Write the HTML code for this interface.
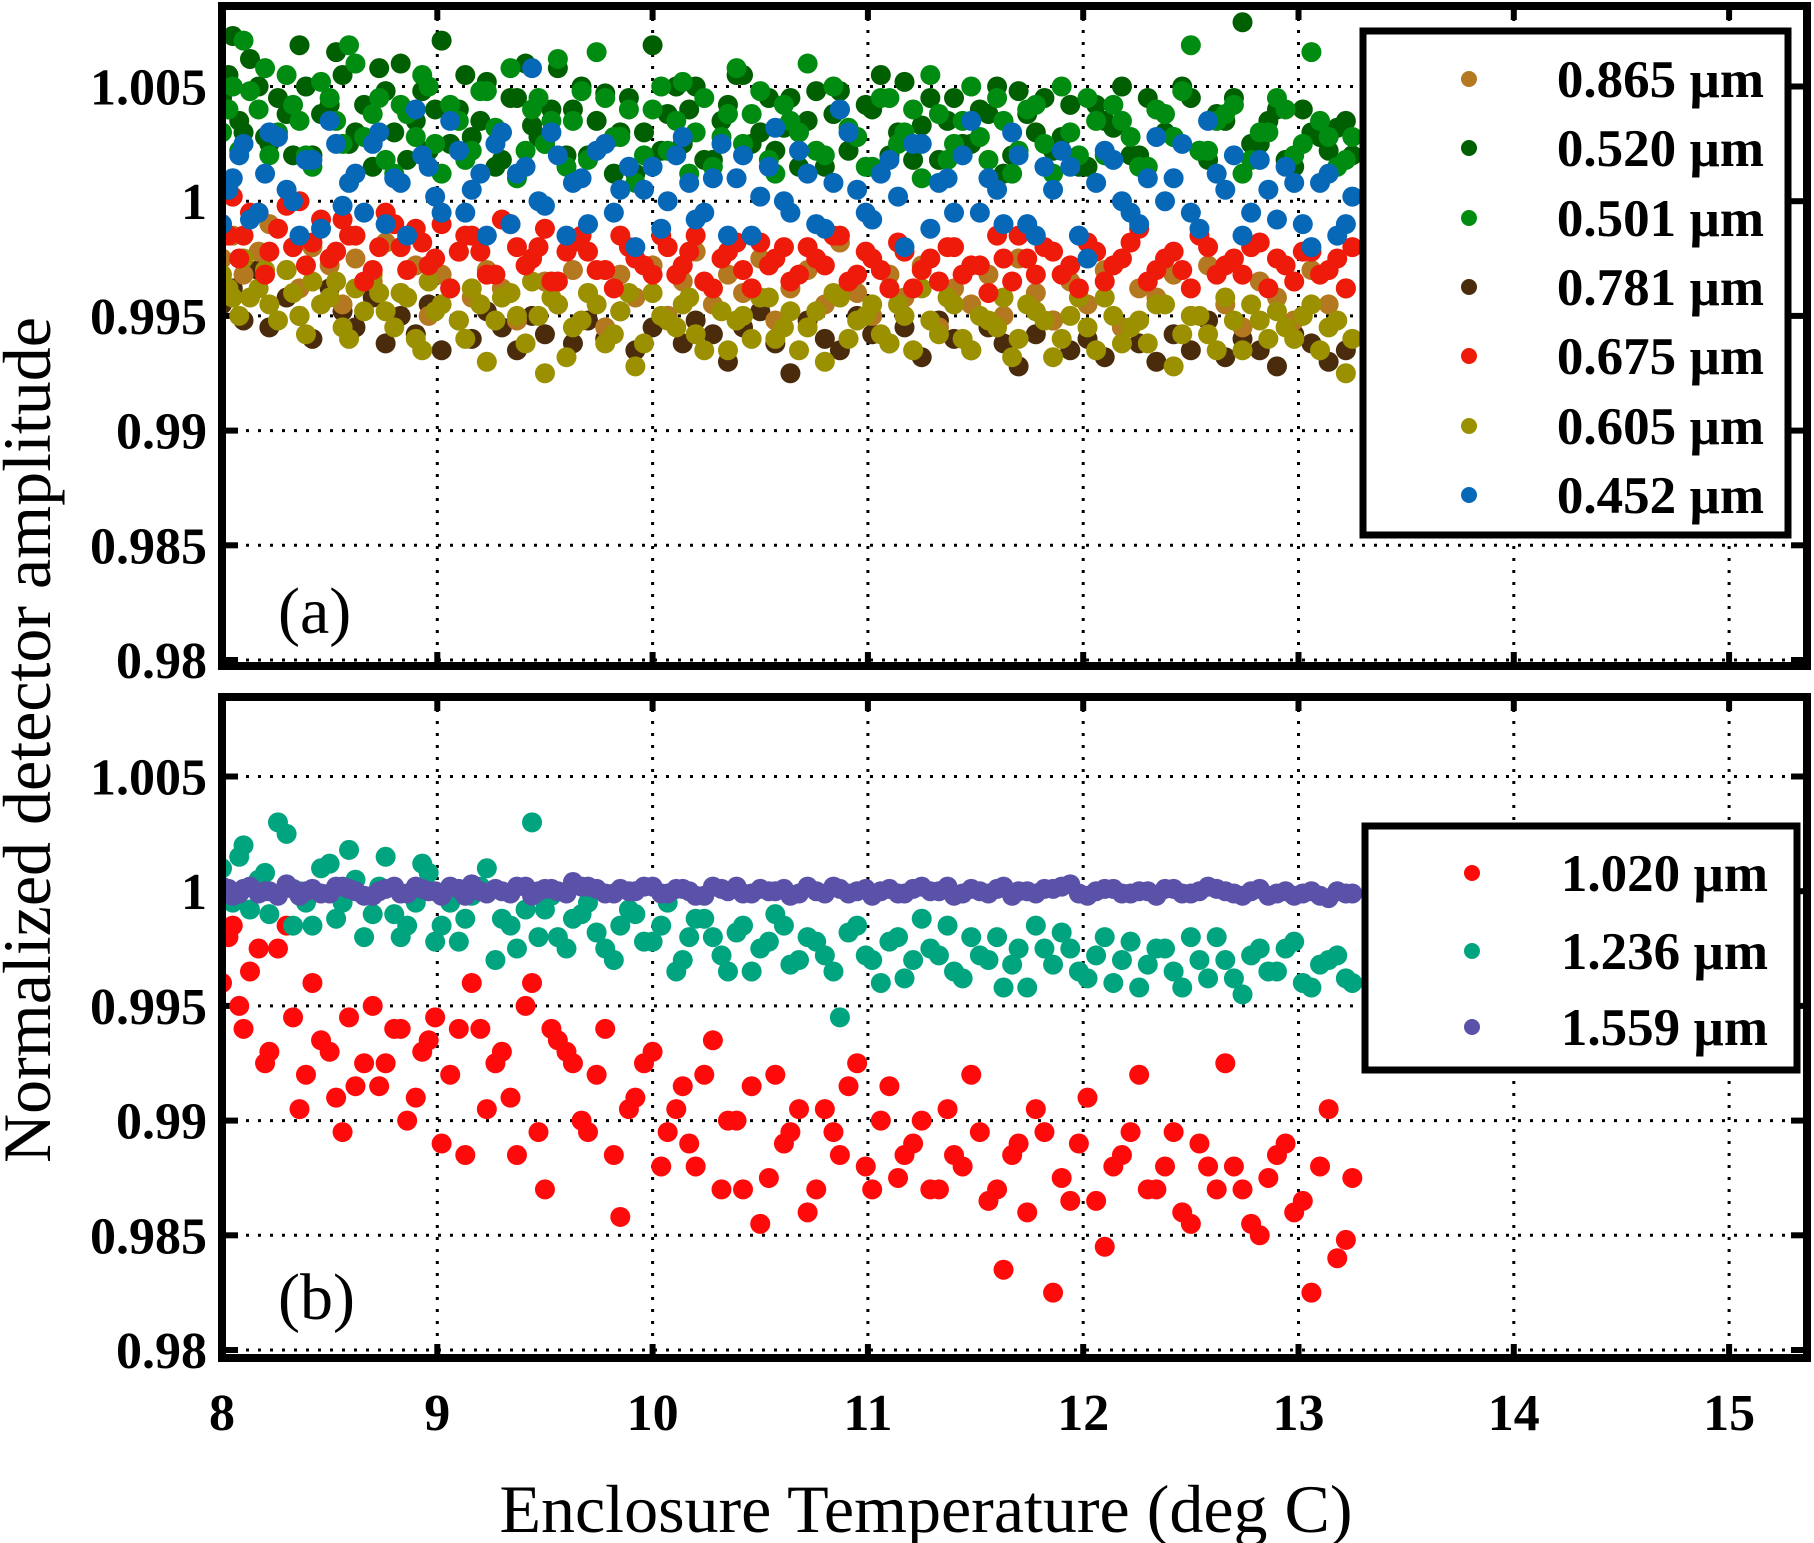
<!DOCTYPE html>
<html><head><meta charset="utf-8"><style>
html,body{margin:0;padding:0;background:#fff}
svg{display:block}
text{font-family:"Liberation Serif",serif}
</style></head><body>
<svg id="chart" width="1814" height="1543" xmlns="http://www.w3.org/2000/svg"></svg>
<script>
const xTicks=[8,9,10,11,12,13,14,15];
const yTicks=[0.98,0.985,0.99,0.995,1,1.005];
const yTickLabels=["0.98","0.985","0.99","0.995","1","1.005"];
const tempsA=[8.0,8.05,8.1,8.17,8.22,8.3,8.36,8.42,8.5,8.56,8.62,8.7,8.76,8.83,8.9,8.96,9.02,9.1,9.16,9.23,9.3,9.37,9.44,9.5,9.56,9.63,9.7,9.78,9.85,9.92,10.0,10.07,10.14,10.2,10.28,10.35,10.42,10.5,10.57,10.64,10.72,10.8,10.87,10.95,11.02,11.1,11.17,11.25,11.33,11.4,11.48,11.56,11.63,11.7,11.78,11.86,11.94,12.02,12.1,12.18,12.26,12.34,12.42,12.5,12.58,12.66,12.74,12.82,12.9,12.98,13.06,13.14,13.22];
const tempsA2=[8.03,8.08,8.13,8.2,8.26,8.33,8.39,8.46,8.53,8.59,8.66,8.73,8.8,8.86,8.93,8.99,9.06,9.13,9.2,9.27,9.34,9.41,9.47,9.53,9.6,9.67,9.74,9.82,9.89,9.96,10.04,10.11,10.17,10.24,10.32,10.39,10.46,10.54,10.61,10.68,10.76,10.84,10.91,10.99,11.06,11.14,11.21,11.29,11.37,11.44,11.52,11.6,11.67,11.74,11.82,11.9,11.98,12.06,12.14,12.22,12.3,12.38,12.46,12.54,12.62,12.7,12.78,12.86,12.94,13.02,13.1,13.18,13.25];
const s520=[1.0045,1.0072,1.0030,1.0050,1.0025,1.0038,1.0068,1.0020,1.0042,1.0055,1.0030,1.0015,1.0048,1.0060,1.0035,1.0022,1.0070,1.0040,1.0028,1.0052,1.0018,1.0045,1.0033,1.0025,1.0058,1.0040,1.0020,1.0047,1.0030,1.0012,1.0068,1.0038,1.0025,1.0050,1.0018,1.0042,1.0055,1.0030,1.0022,1.0045,1.0035,1.0015,1.0048,1.0028,1.0040,1.0020,1.0052,1.0033,1.0018,1.0045,1.0025,1.0038,1.0012,1.0048,1.0030,1.0022,1.0042,1.0015,1.0035,1.0050,1.0020,1.0040,1.0028,1.0045,1.0018,1.0035,1.0078,1.0025,1.0040,1.0015,1.0030,1.0022,1.0035];
const s520b=[1.0055,1.0035,1.0062,1.0028,1.0045,1.0020,1.0050,1.0038,1.0065,1.0025,1.0042,1.0058,1.0030,1.0018,1.0048,1.0040,1.0025,1.0055,1.0035,1.0015,1.0045,1.0060,1.0028,1.0040,1.0020,1.0050,1.0035,1.0012,1.0045,1.0030,1.0022,1.0050,1.0040,1.0018,1.0035,1.0055,1.0025,1.0045,1.0032,1.0015,1.0048,1.0038,1.0022,1.0042,1.0055,1.0030,1.0018,1.0045,1.0035,1.0025,1.0040,1.0050,1.0020,1.0038,1.0045,1.0028,1.0015,1.0042,1.0032,1.0020,1.0045,1.0030,1.0050,1.0022,1.0038,1.0045,1.0025,1.0035,1.0018,1.0040,1.0028,1.0032,1.0020];
const s501=[1.0030,1.0050,1.0070,1.0040,1.0020,1.0055,1.0035,1.0015,1.0045,1.0025,1.0060,1.0038,1.0018,1.0042,1.0028,1.0050,1.0012,1.0035,1.0022,1.0048,1.0030,1.0010,1.0040,1.0025,1.0062,1.0035,1.0018,1.0045,1.0028,1.0008,1.0040,1.0022,1.0052,1.0030,1.0015,1.0038,1.0025,1.0048,1.0012,1.0035,1.0060,1.0020,1.0040,1.0028,1.0015,1.0045,1.0030,1.0010,1.0038,1.0025,1.0050,1.0018,1.0035,1.0022,1.0042,1.0012,1.0030,1.0045,1.0020,1.0035,1.0015,1.0040,1.0028,1.0068,1.0022,1.0038,1.0012,1.0030,1.0045,1.0020,1.0065,1.0028,1.0018];
const s501b=[1.0040,1.0022,1.0048,1.0058,1.0030,1.0042,1.0020,1.0052,1.0035,1.0068,1.0028,1.0045,1.0012,1.0038,1.0055,1.0025,1.0042,1.0018,1.0048,1.0032,1.0058,1.0022,1.0045,1.0035,1.0015,1.0048,1.0065,1.0028,1.0040,1.0020,1.0050,1.0035,1.0012,1.0045,1.0028,1.0058,1.0038,1.0018,1.0042,1.0030,1.0022,1.0050,1.0032,1.0015,1.0045,1.0025,1.0040,1.0055,1.0018,1.0035,1.0028,1.0045,1.0012,1.0040,1.0025,1.0050,1.0020,1.0035,1.0042,1.0028,1.0015,1.0038,1.0048,1.0022,1.0035,1.0042,1.0018,1.0030,1.0040,1.0025,1.0035,1.0015,1.0028];
const s452=[0.9990,1.0010,1.0025,0.9995,1.0030,1.0005,0.9985,1.0018,1.0035,0.9998,1.0012,1.0025,0.9990,1.0008,1.0040,1.0015,0.9995,1.0022,1.0005,0.9985,1.0030,1.0012,1.0058,0.9998,1.0020,1.0008,0.9990,1.0025,1.0005,0.9980,1.0015,1.0000,1.0028,0.9992,1.0010,0.9985,1.0020,1.0002,1.0032,0.9995,1.0012,0.9988,1.0040,1.0005,0.9992,1.0018,0.9980,1.0025,1.0008,0.9995,1.0035,1.0010,0.9990,1.0020,0.9985,1.0005,1.0015,0.9975,1.0022,1.0000,0.9990,1.0028,1.0010,0.9995,1.0035,1.0005,0.9985,1.0018,0.9992,1.0008,0.9980,1.0012,0.9990];
const s452b=[1.0005,1.0020,0.9992,1.0012,1.0028,1.0000,1.0018,0.9988,1.0025,1.0008,0.9995,1.0030,1.0010,0.9985,1.0020,1.0002,1.0035,0.9995,1.0012,1.0025,0.9990,1.0015,1.0000,1.0030,0.9985,1.0010,1.0022,0.9995,1.0015,1.0005,0.9988,1.0020,1.0008,0.9995,1.0025,1.0010,0.9985,1.0015,1.0000,1.0022,0.9990,1.0008,1.0030,0.9995,1.0012,1.0002,1.0025,0.9988,1.0010,1.0020,0.9995,1.0005,1.0030,0.9990,1.0015,1.0022,0.9985,1.0008,1.0018,0.9995,1.0010,1.0000,1.0025,0.9988,1.0012,1.0020,0.9995,1.0005,1.0015,0.9990,1.0008,0.9985,1.0002];
const s675=[0.9990,1.0002,0.9985,0.9995,0.9978,0.9998,1.0000,0.9982,0.9975,0.9992,0.9985,0.9970,0.9995,0.9980,0.9988,0.9972,0.9990,0.9978,0.9985,0.9968,0.9992,0.9980,0.9975,0.9988,0.9965,0.9982,0.9978,0.9970,0.9985,0.9975,0.9968,0.9980,0.9972,0.9985,0.9962,0.9978,0.9970,0.9982,0.9975,0.9965,0.9980,0.9972,0.9985,0.9968,0.9975,0.9962,0.9978,0.9970,0.9965,0.9980,0.9972,0.9960,0.9975,0.9985,0.9968,0.9978,0.9972,0.9982,0.9965,0.9975,0.9988,0.9970,0.9978,0.9962,0.9980,0.9972,0.9968,0.9982,0.9975,0.9965,0.9978,0.9970,0.9962];
const s675b=[0.9985,0.9975,0.9995,0.9968,0.9988,0.9980,0.9972,0.9992,0.9978,0.9985,0.9965,0.9980,0.9990,0.9970,0.9982,0.9975,0.9962,0.9985,0.9978,0.9968,0.9990,0.9972,0.9980,0.9965,0.9978,0.9985,0.9970,0.9962,0.9980,0.9972,0.9985,0.9968,0.9978,0.9965,0.9975,0.9982,0.9962,0.9972,0.9980,0.9968,0.9975,0.9985,0.9965,0.9978,0.9970,0.9982,0.9962,0.9975,0.9980,0.9968,0.9972,0.9985,0.9965,0.9975,0.9980,0.9968,0.9962,0.9978,0.9972,0.9982,0.9965,0.9975,0.9970,0.9985,0.9968,0.9975,0.9980,0.9962,0.9972,0.9978,0.9968,0.9975,0.9980];
const s865=[0.9975,0.9985,0.9968,0.9978,0.9990,0.9970,0.9962,0.9980,0.9972,0.9955,0.9975,0.9965,0.9982,0.9960,0.9972,0.9950,0.9968,0.9978,0.9958,0.9970,0.9962,0.9948,0.9975,0.9965,0.9955,0.9970,0.9960,0.9945,0.9968,0.9958,0.9972,0.9950,0.9965,0.9978,0.9955,0.9968,0.9960,0.9975,0.9948,0.9962,0.9970,0.9955,0.9982,0.9960,0.9950,0.9968,0.9958,0.9972,0.9945,0.9962,0.9955,0.9968,0.9950,0.9975,0.9960,0.9948,0.9965,0.9955,0.9970,0.9945,0.9962,0.9958,0.9968,0.9950,0.9972,0.9955,0.9945,0.9965,0.9958,0.9948,0.9970,0.9955,0.9962];
const s605=[0.9968,0.9958,0.9975,0.9962,0.9955,0.9970,0.9950,0.9965,0.9958,0.9945,0.9962,0.9968,0.9952,0.9960,0.9940,0.9965,0.9955,0.9948,0.9962,0.9930,0.9958,0.9950,0.9965,0.9925,0.9955,0.9945,0.9960,0.9938,0.9952,0.9928,0.9960,0.9948,0.9955,0.9942,0.9962,0.9935,0.9950,0.9958,0.9940,0.9952,0.9945,0.9930,0.9958,0.9948,0.9955,0.9938,0.9950,0.9962,0.9942,0.9955,0.9935,0.9948,0.9958,0.9940,0.9952,0.9932,0.9950,0.9945,0.9958,0.9938,0.9948,0.9955,0.9928,0.9950,0.9942,0.9958,0.9935,0.9948,0.9952,0.9940,0.9955,0.9945,0.9925];
const s605b=[0.9962,0.9950,0.9958,0.9970,0.9948,0.9960,0.9942,0.9955,0.9965,0.9940,0.9952,0.9960,0.9945,0.9958,0.9935,0.9952,0.9962,0.9940,0.9955,0.9948,0.9960,0.9938,0.9950,0.9958,0.9932,0.9948,0.9955,0.9942,0.9960,0.9938,0.9950,0.9945,0.9958,0.9935,0.9952,0.9948,0.9940,0.9958,0.9945,0.9935,0.9952,0.9960,0.9940,0.9950,0.9942,0.9955,0.9935,0.9948,0.9958,0.9940,0.9950,0.9945,0.9932,0.9955,0.9948,0.9940,0.9958,0.9935,0.9950,0.9945,0.9938,0.9955,0.9942,0.9950,0.9935,0.9948,0.9955,0.9940,0.9945,0.9950,0.9935,0.9948,0.9940];
const s781=[0.9955,0.9962,0.9948,0.9970,0.9945,0.9958,0.9950,0.9940,0.9962,0.9952,0.9945,0.9958,0.9938,0.9950,0.9942,0.9955,0.9935,0.9948,0.9940,0.9952,0.9945,0.9935,0.9950,0.9942,0.9955,0.9938,0.9948,0.9940,0.9952,0.9935,0.9945,0.9950,0.9938,0.9948,0.9942,0.9930,0.9945,0.9952,0.9938,0.9925,0.9948,0.9940,0.9935,0.9950,0.9942,0.9938,0.9945,0.9932,0.9948,0.9940,0.9935,0.9945,0.9938,0.9928,0.9942,0.9948,0.9935,0.9940,0.9932,0.9945,0.9938,0.9930,0.9942,0.9935,0.9948,0.9932,0.9940,0.9935,0.9928,0.9942,0.9938,0.9930,0.9935];
const s1559=[1.0002,0.9998,1.0001,0.9999,1.0000,1.0003,0.9998,1.0001,0.9999,1.0002,1.0000,0.9998,1.0001,0.9999,1.0002,1.0000,0.9998,1.0001,1.0003,0.9999,1.0000,1.0002,0.9998,1.0001,1.0000,1.0004,1.0002,0.9999,1.0001,1.0000,1.0002,0.9999,1.0001,0.9998,1.0002,1.0000,0.9999,1.0001,1.0000,0.9998,1.0002,0.9999,1.0001,1.0000,0.9998,1.0001,0.9999,1.0002,1.0000,0.9998,1.0001,0.9999,1.0002,1.0000,0.9999,1.0001,1.0003,0.9998,1.0001,0.9999,1.0000,0.9998,1.0001,0.9999,1.0002,1.0000,0.9998,1.0001,0.9999,0.9998,1.0000,0.9997,0.9999];
const s1559b=[1.0001,0.9999,1.0002,1.0000,0.9998,1.0001,1.0000,0.9999,1.0002,1.0001,0.9998,1.0000,1.0002,0.9999,1.0001,1.0000,1.0002,0.9998,1.0000,1.0001,0.9999,1.0002,1.0000,1.0001,0.9999,1.0002,1.0001,0.9999,1.0000,1.0002,0.9999,1.0001,1.0000,0.9998,1.0001,1.0002,0.9999,1.0000,1.0001,0.9999,1.0000,1.0002,0.9999,1.0001,1.0000,0.9999,1.0001,1.0000,1.0002,0.9999,1.0000,1.0001,0.9998,1.0000,1.0001,1.0002,0.9999,1.0000,1.0001,0.9999,1.0000,1.0001,0.9999,1.0000,1.0001,0.9999,1.0000,0.9998,1.0000,0.9999,0.9998,1.0000,0.9999];
const s1236=[1.0010,0.9995,1.0020,1.0005,0.9990,1.0025,1.0000,0.9985,1.0012,0.9995,1.0005,0.9990,1.0015,0.9980,0.9995,1.0008,0.9985,0.9978,0.9998,1.0010,0.9988,0.9975,1.0030,0.9992,0.9980,0.9988,0.9995,0.9975,0.9985,0.9990,0.9978,0.9995,0.9970,0.9988,0.9980,0.9965,0.9985,0.9975,0.9990,0.9968,0.9980,0.9972,0.9945,0.9985,0.9970,0.9978,0.9962,0.9988,0.9972,0.9965,0.9980,0.9970,0.9958,0.9975,0.9985,0.9968,0.9975,0.9962,0.9980,0.9970,0.9958,0.9975,0.9965,0.9980,0.9962,0.9970,0.9955,0.9975,0.9965,0.9978,0.9958,0.9970,0.9962];
const s1236b=[1.0000,1.0015,0.9992,1.0008,1.0030,0.9985,0.9995,1.0010,0.9988,1.0018,0.9980,1.0002,0.9990,0.9985,1.0012,0.9978,0.9995,0.9988,1.0002,0.9970,0.9985,0.9992,0.9980,0.9998,0.9975,0.9990,0.9982,0.9970,0.9992,0.9978,0.9985,0.9965,0.9980,0.9988,0.9972,0.9982,0.9965,0.9978,0.9985,0.9970,0.9978,0.9965,0.9982,0.9972,0.9960,0.9980,0.9970,0.9975,0.9985,0.9962,0.9972,0.9980,0.9968,0.9958,0.9975,0.9982,0.9965,0.9972,0.9960,0.9978,0.9968,0.9975,0.9958,0.9970,0.9980,0.9962,0.9972,0.9965,0.9975,0.9960,0.9968,0.9972,0.9960];
const s1020=[0.9960,0.9985,0.9940,0.9975,0.9930,0.9985,0.9905,0.9960,0.9930,0.9895,0.9915,0.9950,0.9925,0.9940,0.9910,0.9935,0.9890,0.9940,0.9960,0.9905,0.9930,0.9885,0.9960,0.9870,0.9935,0.9925,0.9895,0.9940,0.9858,0.9910,0.9930,0.9895,0.9915,0.9880,0.9935,0.9900,0.9870,0.9855,0.9920,0.9895,0.9860,0.9905,0.9885,0.9925,0.9870,0.9915,0.9885,0.9900,0.9870,0.9885,0.9920,0.9865,0.9835,0.9890,0.9905,0.9825,0.9865,0.9910,0.9845,0.9885,0.9920,0.9870,0.9895,0.9855,0.9880,0.9925,0.9870,0.9850,0.9885,0.9860,0.9825,0.9905,0.9848];
const s1020b=[0.9980,0.9950,0.9965,0.9925,0.9975,0.9945,0.9920,0.9935,0.9910,0.9945,0.9925,0.9915,0.9940,0.9900,0.9930,0.9945,0.9920,0.9885,0.9940,0.9925,0.9910,0.9950,0.9895,0.9940,0.9930,0.9900,0.9920,0.9885,0.9905,0.9925,0.9880,0.9905,0.9890,0.9920,0.9870,0.9900,0.9915,0.9875,0.9890,0.9905,0.9870,0.9895,0.9915,0.9880,0.9900,0.9875,0.9890,0.9870,0.9905,0.9880,0.9895,0.9870,0.9885,0.9860,0.9895,0.9875,0.9890,0.9865,0.9880,0.9895,0.9870,0.9880,0.9860,0.9890,0.9870,0.9880,0.9855,0.9875,0.9890,0.9865,0.9880,0.9840,0.9875];

const NS="http://www.w3.org/2000/svg";
const svg=document.getElementById('chart');
function mk(tag,attrs,parent){const e=document.createElementNS(NS,tag);for(const k in attrs)e.setAttribute(k,attrs[k]);(parent||svg).appendChild(e);return e;}
const X0=222,X1=1807;
function xs(v){return 222+(v-8)*215.3;}
const panels=[
 {top:6,bot:666,y98:660,label:"(a)",ly:611,id:"a",
  series:[["0.865 µm","#b47820",[[s865,tempsA]]],["0.520 µm","#005f00",[[s520,tempsA],[s520b,tempsA2]]],["0.501 µm","#008c10",[[s501,tempsA],[s501b,tempsA2]]],["0.781 µm","#4a2c0c",[[s781,tempsA]]],["0.675 µm","#ee1a0a",[[s675,tempsA],[s675b,tempsA2]]],["0.605 µm","#9a9000",[[s605,tempsA],[s605b,tempsA2]]],["0.452 µm","#0868b8",[[s452,tempsA],[s452b,tempsA2]]]],
  drawOrder:[1,2,3,0,5,4,6],
  legend:{x:1363,y:31,w:425,h:504,rows:[79,148,218,287,356,426,495],mx:1469,tx:1764}},
 {top:697,bot:1358,y98:1350,label:"(b)",ly:1297,id:"b",
  series:[["1.020 µm","#ff0a0a",[[s1020,tempsA],[s1020b,tempsA2]]],["1.236 µm","#00a57f",[[s1236,tempsA],[s1236b,tempsA2]]],["1.559 µm","#5a52a8",[[s1559,tempsA],[s1559b,tempsA2]]]],
  drawOrder:[0,1,2],
  legend:{x:1365,y:826,w:432,h:244,rows:[873,951,1027],mx:1472,tx:1768}}
];
panels.forEach((p,pi)=>{
  const ys=v=>p.y98-(v-0.98)/0.005*114.7;
  const g=mk('g',{});
  
  
  const cid='clip'+p.id;
  const cp=mk('clipPath',{id:cid},g);mk('rect',{x:X0,y:p.top,width:X1-X0,height:p.bot-p.top},cp);
  xTicks.forEach(t=>{if(t===8)return;const l=mk('line',{x1:xs(t),x2:xs(t),y1:p.top,y2:p.bot,stroke:'#000','stroke-width':3,'stroke-dasharray':'3 9'},g);
    
    mk('line',{x1:xs(t),x2:xs(t),y1:p.bot,y2:p.bot-14,stroke:'#000','stroke-width':6},g);
    mk('line',{x1:xs(t),x2:xs(t),y1:p.top,y2:p.top+14,stroke:'#000','stroke-width':6},g);});
  yTicks.forEach((t,i)=>{const y=ys(t);const l=mk('line',{x1:X0,x2:X1,y1:y,y2:y,stroke:'#000','stroke-width':3,'stroke-dasharray':'3 9'},g);
    
    mk('line',{x1:X0,x2:X0+16,y1:y,y2:y,stroke:'#000','stroke-width':6},g);
    mk('line',{x1:X1-16,x2:X1,y1:y,y2:y,stroke:'#000','stroke-width':6},g);
    const tx=mk('text',{x:207,y:y+18,'text-anchor':'end','font-size':52,'font-weight':'bold'},g);tx.textContent=yTickLabels[i];
    });
  const pg=mk('g',{'clip-path':'url(#'+cid+')'},g);
  p.drawOrder.forEach(si=>{const s=p.series[si];
    s[2].forEach(run=>{const vals=run[0],tm=run[1];const n=Math.min(vals.length,tm.length);
    for(let i=0;i<n;i++){const c=mk('circle',{cx:xs(tm[i]),cy:ys(vals[i]),r:10,fill:s[1]},pg);
      }});});
  const fr=mk('rect',{x:X0,y:p.top,width:X1-X0,height:p.bot-p.top,fill:'none',stroke:'#000','stroke-width':8},g);
  
  const lb=mk('text',{x:278,y:p.ly+22,'font-size':66},g);lb.textContent=p.label;
  
  const L=p.legend;const lg=mk('g',{},g);
  
  mk('rect',{x:L.x,y:L.y,width:L.w,height:L.h,fill:'#fff',stroke:'#000','stroke-width':7},lg);
  p.series.forEach((s,i)=>{const e=mk('g',{},lg);
    
    mk('circle',{cx:L.mx,cy:L.rows[i],r:8,fill:s[1]},e);
    const t=mk('text',{x:L.tx,y:L.rows[i]+18,'text-anchor':'end','font-size':53,'font-weight':'bold'},e);t.textContent=s[0];});
});
xTicks.forEach(t=>{const tx=mk('text',{x:xs(t),y:1430,'text-anchor':'middle','font-size':52,'font-weight':'bold'});tx.textContent=String(t);
  });
const xl=mk('text',{x:926,y:1532,'text-anchor':'middle','font-size':68});xl.textContent='Enclosure Temperature (deg C)';

const yl=mk('text',{x:0,y:0,'text-anchor':'middle','font-size':68,transform:'translate(50,740) rotate(-90)'});yl.textContent='Normalized detector amplitude';

</script>
</body></html>
